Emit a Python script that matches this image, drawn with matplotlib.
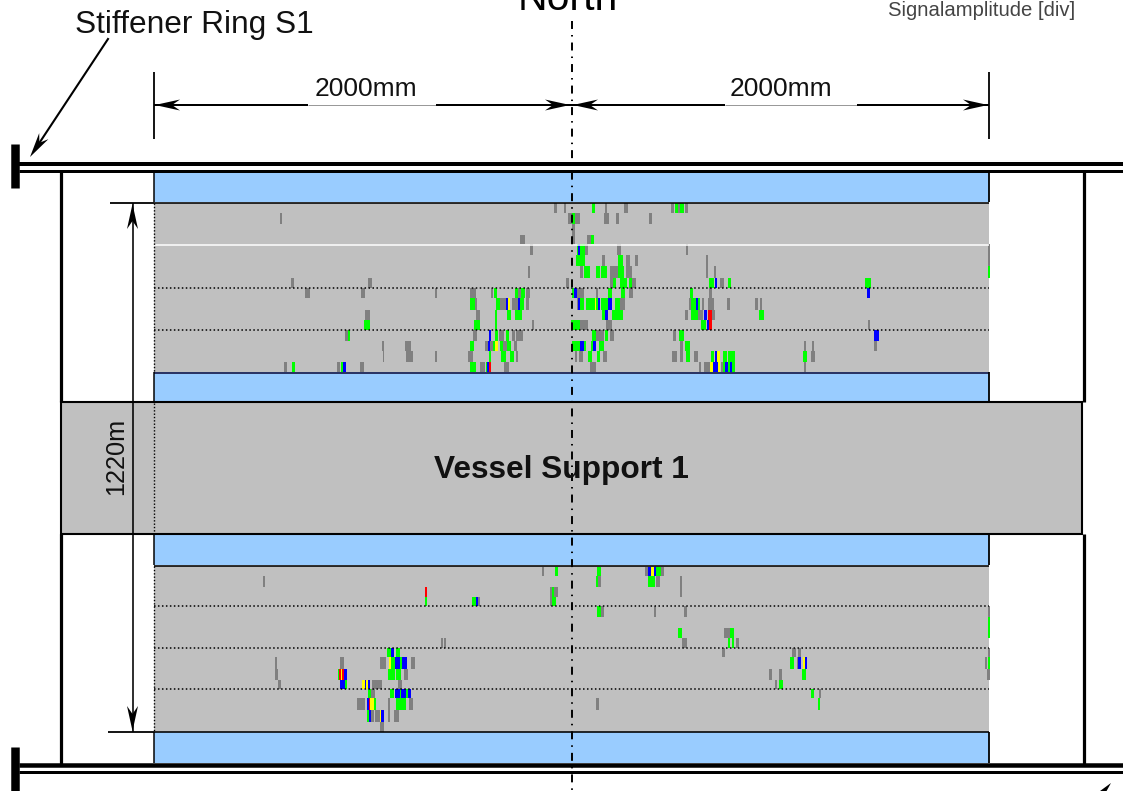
#!/usr/bin/env python
import matplotlib
matplotlib.use("Agg")
import matplotlib.pyplot as plt
from matplotlib.patches import Polygon, Rectangle
import math

plt.rcParams["font.family"] = ["Liberation Sans", "DejaVu Sans"]

# indications: (scan row, start, end, colour code)
# start/end are in 1/3 pixel from the origin of each quadrant
upper_left = [
    (0,1213,1220,"k"),(0,1245,1248,"k"),
    (1,390,395,"k"),(1,1255,1262,"k"),(1,1262,1268,"k"),(1,1268,1278,"g"),
    (2,1270,1275,"k"),
    (3,1112,1123,"k"),(3,1270,1274,"k"),
    (4,1141,1147,"k"),(4,1283,1290,"b"),
    (5,1280,1290,"g"),
    (6,1134,1140,"k"),
    (7,423,430,"k"),(7,655,666,"k"),(7,1248,1254,"k"),
    (8,466,480,"k"),(8,634,643,"k"),(8,855,859,"k"),(8,962,976,"k"),(8,1024,1028,"k"),(8,1032,1040,"g"),
    (8,1095,1105,"g"),(8,1105,1112,"k"),(8,1115,1124,"g"),(8,1130,1140,"k"),(8,1268,1275,"g"),(8,1275,1281,"b"),
    (9,962,976,"g"),(9,976,980,"k"),(9,1038,1052,"g"),(9,1052,1066,"k"),(9,1068,1072,"b"),(9,1074,1080,"y"),
    (9,1088,1103,"k"),(9,1104,1112,"b"),(9,1112,1120,"g"),(9,1128,1137,"k"),(9,1284,1290,"b"),
    (10,645,658,"k"),(10,978,990,"k"),(10,1036,1040,"g"),(10,1072,1082,"g"),(10,1096,1115,"g"),
    (11,642,658,"g"),(11,973,990,"g"),(11,1036,1040,"g"),(11,1148,1151,"k"),(11,1265,1288,"g"),
    (12,585,595,"k"),(12,594,599,"g"),(12,970,980,"k"),(12,1019,1023,"b"),(12,1035,1042,"g"),(12,1048,1062,"k"),
    (12,1070,1077,"g"),(12,1086,1095,"k"),(12,1100,1118,"k"),
    (13,697,700,"k"),(13,767,783,"k"),(13,960,970,"g"),(13,1006,1016,"k"),(13,1016,1020,"b"),(13,1020,1030,"k"),
    (13,1030,1036,"g"),(13,1036,1042,"y"),(13,1052,1060,"g"),(13,1060,1070,"k"),(13,1072,1082,"g"),(13,1094,1100,"k"),
    (13,1270,1284,"g"),(13,1285,1290,"k"),
    (14,699,701,"k"),(14,770,787,"k"),(14,856,859,"k"),(14,955,968,"k"),(14,1019,1023,"g"),(14,1054,1066,"g"),
    (14,1080,1090,"g"),(14,1098,1102,"k"),(14,1277,1280,"k"),
    (15,403,410,"k"),(15,426,433,"g"),(15,562,570,"k"),(15,575,580,"g"),(15,580,587,"b"),(15,630,640,"k"),
    (15,962,976,"g"),(15,990,1005,"k"),(15,1010,1013,"g"),(15,1013,1017,"b"),(15,1018,1023,"r"),(15,1062,1077,"k"),
]
upper_right = [
    (0,12,17,"k"),(0,98,104,"g"),(0,135,140,"k"),(0,193,204,"k"),(0,333,340,"k"),(0,345,355,"g"),(0,355,362,"k"),
    (0,362,370,"g"),(0,377,383,"k"),
    (1,25,35,"k"),(1,38,46,"g"),(1,46,58,"k"),(1,133,147,"k"),(1,168,175,"k"),(1,268,275,"k"),
    (2,38,44,"k"),
    (3,38,44,"k"),(3,83,95,"k"),(3,95,100,"g"),
    (4,52,55,"g"),(4,55,62,"b"),(4,62,75,"g"),(4,75,82,"k"),(4,172,183,"k"),(4,378,383,"k"),(4,1285,1290,"k"),
    (5,52,75,"g"),(5,128,133,"k"),(5,176,188,"g"),(5,198,210,"k"),(5,226,232,"k"),(5,440,443,"k"),(5,1285,1290,"k"),
    (6,60,68,"k"),(6,72,90,"g"),(6,110,118,"g"),(6,124,140,"g"),(6,150,175,"k"),(6,175,190,"g"),(6,200,215,"k"),
    (6,440,443,"k"),(6,462,468,"k"),(6,1285,1290,"g"),
    (7,18,26,"k"),(7,150,160,"k"),(7,160,168,"g"),(7,180,200,"g"),(7,207,218,"g"),(7,218,228,"k"),(7,448,462,"g"),
    (7,465,469,"b"),(7,480,490,"k"),(7,505,512,"g"),(7,916,932,"g"),
    (8,36,42,"g"),(8,42,50,"b"),(8,52,72,"k"),(8,110,114,"k"),(8,146,155,"g"),(8,185,193,"g"),(8,207,218,"k"),
    (8,392,397,"g"),(8,447,455,"k"),(8,921,929,"b"),
    (9,52,56,"k"),(9,56,60,"b"),(9,60,72,"g"),(9,80,106,"g"),(9,106,110,"y"),(9,110,114,"g"),(9,114,120,"b"),
    (9,124,145,"g"),(9,146,154,"b"),(9,166,180,"g"),(9,180,193,"k"),(9,388,395,"k"),(9,395,410,"g"),(9,410,414,"b"),
    (9,414,418,"g"),(9,426,432,"k"),(9,445,460,"k"),(9,502,508,"k"),(9,587,594,"k"),(9,600,605,"k"),
    (10,127,135,"g"),(10,135,143,"b"),(10,158,170,"g"),(10,172,188,"g"),(10,376,382,"k"),(10,395,412,"g"),
    (10,414,428,"k"),(10,432,440,"b"),(10,445,455,"r"),(10,458,465,"k"),(10,597,612,"g"),
    (11,34,58,"g"),(11,62,82,"k"),(11,138,155,"k"),(11,425,438,"g"),(11,443,447,"b"),(11,447,455,"r"),(11,925,929,"k"),
    (12,97,108,"g"),(12,110,130,"k"),(12,137,142,"g"),(12,150,160,"k"),(12,340,347,"k"),(12,358,372,"g"),(12,944,955,"b"),
    (13,38,60,"g"),(13,60,72,"b"),(13,72,78,"g"),(13,94,100,"g"),(13,100,107,"b"),(13,118,132,"g"),(13,362,368,"k"),
    (13,376,390,"g"),(13,732,737,"k"),(13,757,762,"k"),(13,944,950,"k"),
    (14,58,68,"k"),(14,86,94,"g"),(14,112,118,"g"),(14,130,140,"k"),(14,336,350,"k"),(14,362,368,"k"),(14,380,390,"g"),
    (14,402,412,"k"),(14,455,462,"g"),(14,466,470,"b"),(14,472,478,"y"),(14,490,500,"g"),(14,505,525,"g"),
    (14,730,740,"g"),(14,754,764,"k"),
    (15,90,107,"k"),(15,418,422,"k"),(15,432,448,"k"),(15,450,457,"y"),(15,459,472,"b"),(15,474,478,"y"),(15,484,490,"k"),
    (15,490,496,"g"),(15,496,505,"b"),(15,505,512,"g"),(15,512,518,"b"),(15,518,525,"g"),(15,732,737,"k"),
]
lower_left = [
    (0,1176,1181,"k"),(0,1216,1223,"g"),
    (1,340,345,"k"),
    (2,826,830,"r"),(2,1202,1206,"k"),(2,1206,1212,"g"),(2,1214,1223,"k"),
    (3,827,831,"g"),(3,966,980,"g"),(3,980,985,"b"),(3,985,990,"k"),(3,1202,1206,"k"),(3,1208,1216,"g"),
    (7,873,877,"k"),(7,882,887,"k"),
    (8,712,722,"g"),(8,724,730,"b"),(8,738,750,"g"),
    (9,375,380,"k"),(9,570,580,"k"),(9,690,708,"k"),(9,718,725,"y"),(9,725,736,"g"),(9,737,752,"b"),(9,752,758,"g"),
    (9,758,770,"b"),(9,783,795,"k"),
    (10,377,384,"k"),(10,566,568,"g"),(10,568,573,"r"),(10,573,578,"y"),(10,578,583,"r"),(10,584,591,"b"),
    (10,716,735,"g"),(10,738,752,"g"),(10,762,774,"k"),
    (11,386,391,"k"),(11,570,586,"b"),(11,586,591,"g"),(11,637,645,"y"),(11,646,650,"b"),(11,650,654,"y"),(11,655,660,"b"),
    (11,668,695,"k"),(11,744,755,"k"),
    (12,654,663,"g"),(12,665,673,"k"),(12,722,730,"g"),(12,736,750,"b"),(12,750,755,"g"),(12,755,768,"b"),(12,768,773,"g"),
    (12,774,782,"b"),
    (13,622,645,"k"),(13,652,658,"b"),(13,658,662,"r"),(13,662,672,"y"),(13,672,677,"g"),(13,715,720,"k"),(13,738,748,"g"),
    (13,752,766,"g"),(13,778,788,"k"),
    (14,652,658,"g"),(14,658,662,"b"),(14,664,672,"k"),(14,677,690,"k"),(14,690,694,"y"),(14,694,700,"b"),(14,716,719,"k"),
    (14,733,745,"k"),
    (15,690,702,"k"),
]
lower_right = [
    (0,112,122,"g"),(0,255,262,"k"),(0,264,274,"b"),(0,275,282,"y"),(0,283,288,"b"),(0,290,304,"g"),(0,304,312,"k"),
    (1,108,116,"g"),(1,116,122,"k"),(1,265,283,"g"),(1,290,300,"k"),(1,361,365,"k"),
    (2,361,365,"k"),
    (4,112,124,"g"),(4,124,130,"k"),(4,282,287,"k"),(4,372,380,"k"),(4,1286,1290,"k"),
    (5,1285,1290,"g"),
    (6,354,364,"g"),(6,493,510,"k"),(6,510,520,"g"),(6,1285,1290,"g"),
    (7,368,379,"k"),(7,505,509,"g"),(7,516,522,"g"),(7,528,536,"k"),
    (8,487,493,"k"),(8,697,708,"k"),(8,716,721,"k"),(8,1286,1290,"k"),
    (9,690,701,"g"),(9,712,715,"k"),(9,715,722,"b"),(9,730,736,"y"),(9,736,740,"b"),(9,1275,1281,"k"),(9,1285,1290,"g"),
    (10,629,636,"k"),(10,658,664,"k"),(10,726,736,"g"),(10,1283,1290,"k"),
    (11,646,650,"k"),(11,658,668,"g"),
    (12,755,761,"g"),(12,779,782,"k"),
    (13,108,115,"k"),(13,775,780,"g"),
]

# row borders in the crops (1/3 pixel)
upper_rows = [25,55,88,120,148,180,213,248,278,310,344,375,405,438,468,502,532]
lower_rows = [35,62,95,125,152,185,218,248,280,307,342,375,402,430,466,500,532]

mark_colors = {"k":"#808080", "g":"#00FF00", "b":"#0000FF", "y":"#FFFF00", "r":"#FF0000"}

BLUE = "#99CCFF"
GREY = "#C0C0C0"

fig = plt.figure(figsize=(11.23, 7.91), dpi=100)
ax = fig.add_axes([0, 0, 1, 1])
ax.set_xlim(0, 1123)
ax.set_ylim(791, 0)
ax.axis("off")


def hline(y, x0, x1, px=1.5, color="black", ls="-", z=5):
    ax.plot([x0, x1], [y, y], color=color, lw=px*0.72, ls=ls, zorder=z, solid_capstyle="butt")


def vline(x, y0, y1, px=1.5, color="black", ls="-", z=5):
    ax.plot([x, x], [y0, y1], color=color, lw=px*0.72, ls=ls, zorder=z, solid_capstyle="butt")


def head(tx, ty, angle, z=7):
    # stealth arrow head, angle is the direction it points at
    c, s = math.cos(angle), math.sin(angle)
    pts = [(0, 0), (-25, 5.5), (-17, 0), (-25, -5.5)]
    ax.add_patch(Polygon([(tx + c*a - s*b, ty + s*a + c*b) for a, b in pts],
                         closed=True, fc="black", ec="none", zorder=z))


def draw_marks(marks, rows, ox, oy):
    for row, a, b, code in marks:
        top = oy + rows[row]/3
        bot = oy + rows[row + 1]/3
        # reference marks are a bit soft, so they read slightly wider
        ax.bar(ox + a/3 - 0.3, bot - top, width=(b - a)/3 + 0.6, bottom=top, align="edge",
               color=mark_colors[code], linewidth=0, zorder=3)


# blue strips and scan areas
for y0, y1 in [(172, 202), (372, 402), (535, 565), (732, 763)]:
    ax.add_patch(Rectangle((154, y0), 835, y1 - y0, fc=BLUE, ec="none", zorder=1))
ax.add_patch(Rectangle((154, 203), 835, 169, fc=GREY, ec="none", zorder=1))
ax.add_patch(Rectangle((154, 566), 835, 166, fc=GREY, ec="none", zorder=1))

draw_marks(upper_left, upper_rows, 150, 195)
draw_marks(upper_right, upper_rows, 560, 195)
draw_marks(lower_left, lower_rows, 150, 555)
draw_marks(lower_right, lower_rows, 560, 555)

# row lines
hline(244.5, 154, 989, 1.5, "white", z=4)
for y in [288, 330, 605.5, 648, 689]:
    ax.plot([154, 989], [y, y], color="black", lw=1.1, ls=(0, (1, 1.6)), zorder=4)
for y in [202.5, 372.5, 565.5, 732]:
    hline(y, 154, 989, 1.6, "#101040" if y == 372.5 else "black")
for y0, y1 in [(203, 372), (566, 732)]:
    ax.plot([154, 154], [y0, y1], color="black", lw=1.0, ls=(0, (1, 1.4)), zorder=4)
for y0, y1 in [(172, 202), (372, 402), (535, 565), (732, 763)]:
    vline(154, y0, y1, 1.5)
    vline(989, y0, y1, 1.8)

# vessel support
ax.add_patch(Rectangle((61, 402), 1021, 132, fc=GREY, ec="black", lw=1.5, zorder=2))
ax.plot([154, 154], [403, 533], color="black", lw=1.0, ls=(0, (1, 1.4)), zorder=4)

# stiffener rings and frame
hline(163.5, 19, 1123, 4)
hline(170.8, 19, 1123, 3)
hline(765, 19, 1123, 4.5)
hline(771.8, 19, 1123, 3)
vline(14.5, 144, 188, 8.5)
vline(14.5, 747, 791, 8.5)
for x in [61, 1084]:
    vline(x, 171, 402, 3.2)
    vline(x, 534, 765, 3.2)
hline(171, 61, 154, 3)

# centre line
ax.plot([571.5, 571.5], [21, 791], color="black", lw=1.4,
        ls=(0, (4.1, 3.1, 0.77, 3.1)), zorder=6)

# horizontal dimensions
vline(154, 72, 139, 1.8)
vline(989, 72, 139, 1.8)
hline(105, 154, 308, 2)
hline(105, 308, 436, 0.8, "#808080")
hline(105, 436, 571, 2)
hline(105, 571, 725, 2)
hline(105, 725, 857, 0.8, "#808080")
hline(105, 857, 989, 2)
head(155, 105, math.pi)
head(570, 105, 0)
head(573, 105, math.pi)
head(988, 105, 0)

# vertical dimension
vline(132.5, 203, 732, 1.6)
hline(202.5, 110, 154, 1.8)
hline(732, 108, 154, 1.8)
head(132.5, 204, -math.pi/2)
head(132.5, 731, math.pi/2)

# pointers to the rings
ax.plot([108, 36], [39, 148], color="black", lw=1.5, zorder=6)
head(30, 157, math.atan2(157 - 39, 30 - 108))
head(1111, 783, math.atan2(-34, 30))

# texts
ax.text(75, 25, "Stiffener Ring S1", fontsize=22.8, ha="left", va="center", color="#111111", zorder=8)
ax.text(568, 10, "North", fontsize=29.5, ha="center", va="baseline", color="black", zorder=8)
ax.text(982, 10, "Signalamplitude [div]", fontsize=14.6, ha="center", va="center", color="#444444", zorder=8)
ax.text(365.5, 89, "2000mm", fontsize=19, ha="center", va="center", color="#111111", zorder=8)
ax.text(780.5, 89, "2000mm", fontsize=19, ha="center", va="center", color="#111111", zorder=8)
ax.text(116, 456, "1220m", fontsize=18.2, rotation=90, ha="center", va="center", color="#111111", zorder=8)
ax.text(561.5, 470, "Vessel Support 1", fontsize=22.8, fontweight="bold", ha="center", va="center", color="#111111", zorder=8)

fig.savefig("out.png", dpi=100)
